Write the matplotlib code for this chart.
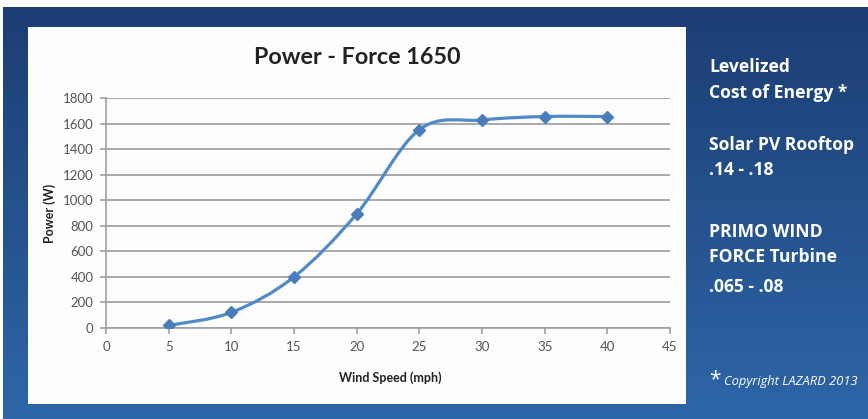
import numpy as np
import matplotlib.pyplot as plt
from matplotlib.path import Path
from matplotlib.patches import PathPatch, Rectangle

# data
wind_speed = [5, 10, 15, 20, 25, 30, 35, 40]
power = [20, 122, 400, 893, 1552, 1628, 1655, 1655]

x_ticks = [0, 5, 10, 15, 20, 25, 30, 35, 40, 45]
y_ticks = [0, 200, 400, 600, 800, 1000, 1200, 1400, 1600, 1800]

side_lines = [
    ("Levelized", 67),
    ("Cost of Energy *", 93),
    ("Solar PV Rooftop", 145),
    (".14 - .18", 170),
    ("PRIMO WIND", 232),
    ("FORCE Turbine", 257),
    (".065 - .08", 287),
]

W, H = 868, 419
fig = plt.figure(figsize=(W / 100, H / 100), dpi=100)
fig.patch.set_facecolor("white")

# blue gradient background
bg = fig.add_axes([3 / W, 0, 1 - 3 / W, (H - 7) / H])
top = np.array([0.11, 0.24, 0.45])
bot = np.array([0.18, 0.40, 0.66])
t = np.linspace(0, 1, 256)[:, None]
grad = top + (bot - top) * t
bg.imshow(grad[:, None, :].repeat(2, axis=1), aspect="auto", extent=[0, 1, 0, 1])
bg.set_axis_off()

# white chart panel
fig.patches.append(Rectangle((28 / W, (H - 404) / H), (686 - 28) / W, (404 - 27) / H,
                             transform=fig.transFigure, facecolor="#fdfdfd",
                             edgecolor="none", zorder=1))

ax = fig.add_axes([106 / W, 91 / H, (670 - 106) / W, 230 / H])
ax.set_zorder(2)
ax.patch.set_alpha(0)
ax.set_xlim(0, 45)
ax.set_ylim(0, 1800)
ax.set_xticks(x_ticks)
ax.set_yticks(y_ticks)
ax.tick_params(colors="#a0a0a0", labelcolor="#555555", length=4, width=1.2,
               labelsize=9.5, pad=5)
for lab in ax.get_xticklabels() + ax.get_yticklabels():
    lab.set_family("Lato")
for s in ["top", "right"]:
    ax.spines[s].set_visible(False)
for s in ["left", "bottom"]:
    ax.spines[s].set_color("#a0a0a0")
    ax.spines[s].set_linewidth(1.2)
ax.yaxis.grid(True, color="#a8a8a8", linewidth=1.4)
ax.set_axisbelow(True)

# smoothed line, Excel style bezier through the points
pts = np.column_stack([wind_speed, power]).astype(float)
ext = np.vstack([pts[0], pts, pts[-1]])
verts = [pts[0]]
codes = [Path.MOVETO]
for i in range(len(pts) - 1):
    p0, p1, p2, p3 = ext[i], ext[i + 1], ext[i + 2], ext[i + 3]
    verts += [p1 + (p2 - p0) / 6, p2 - (p3 - p1) / 6, p2]
    codes += [Path.CURVE4] * 3
ax.add_patch(PathPatch(Path(verts, codes), fill=False, edgecolor="#5289c9",
                       linewidth=2.3, zorder=3))
ax.plot(wind_speed, power, linestyle="none", marker="D", markersize=6.5,
        color="#4a7ebb", zorder=4)

fig.text(357 / W, 1 - 57 / H, "Power - Force 1650", ha="center", va="center",
         fontsize=16.8, fontweight="bold", family="Lato", color="#222222", zorder=3)
fig.text(50 / W, 1 - 213 / H, "Power (W)", ha="center", va="center", rotation=90,
         fontsize=9, fontweight="bold", family="Lato", color="#222222", zorder=3)
fig.text(390 / W, 1 - 378 / H, "Wind Speed (mph)", ha="center", va="center",
         fontsize=9, fontweight="bold", family="Lato", color="#222222", zorder=3)

for txt, y in side_lines:
    fig.text(709 / W, 1 - y / H, txt, ha="left", va="center", fontsize=12.6,
             fontweight="bold", family="Open Sans", color="white", zorder=3)
fig.text(709 / W, 1 - 380 / H, "*", ha="left", va="center", fontsize=15,
         family="Open Sans", color="white", zorder=3)
fig.text(724 / W, 1 - 381 / H, "Copyright LAZARD 2013", ha="left", va="center",
         fontsize=9.3, style="italic", family="Open Sans", color="white", zorder=3)

fig.savefig("out.png", dpi=100)
